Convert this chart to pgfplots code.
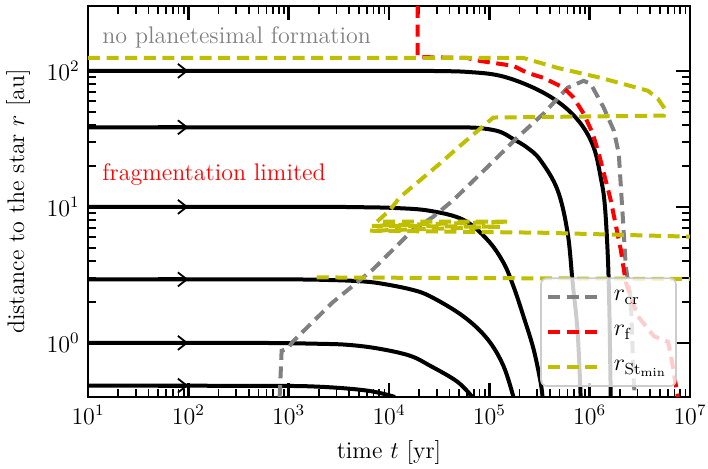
\documentclass[12pt,border=0pt]{standalone}
\usepackage{pgfplots}
\pgfplotsset{compat=1.18}
\usetikzlibrary{arrows.meta}
\definecolor{olivey}{rgb}{0.75,0.75,0}
\definecolor{mgray}{rgb}{0.5,0.5,0.5}
\definecolor{legframe}{rgb}{0.8,0.8,0.8}
\begin{document}
\begin{tikzpicture}
\begin{axis}[
 scale only axis, width=301pt, height=195.5pt,
 xmode=log, ymode=log, xmin=10, xmax=1e7, ymin=0.4, ymax=300,
 xtick={1e1,1e2,1e3,1e4,1e5,1e6,1e7}, ytick={1,10,100},
 xlabel={time $t$ [yr]}, ylabel={distance to the star $r$ [au]},
 tick align=inside, xtick pos=both, ytick pos=both,
 major tick length=7pt, minor tick length=4pt,
 every major tick/.append style={line width=1.2pt, black},
 every minor tick/.append style={line width=0.8pt, black},
 axis line style={line width=1.2pt},
 legend style={at={(axis description cs:0.978,0.026)}, anchor=south east,
   fill=white, fill opacity=0.8, text opacity=1, draw opacity=1,
   draw=legframe, rounded corners=3pt, line width=0.8pt,
   inner xsep=2.5pt, inner ysep=4pt, row sep=6.5pt, column sep=5pt, font=\normalsize},
 legend cell align=left,
 legend image code/.code={\draw[#1] (0pt,0pt) -- (25pt,0pt);},
 blk/.style={black, line width=2pt, smooth, tension=0.6},
 arr/.style={black, line width=2pt, -{Straight Barb[length=4.5pt,width=7pt,line width=0.9pt]}},
 dsh/.style={line width=2pt, dash pattern=on 6pt off 3.3pt},
]
\coordinate (SW) at (rel axis cs:0,0);
\coordinate (NE) at (rel axis cs:1,1);
% black trajectories
\addplot[blk, forget plot] coordinates {(10,100) (5000,100) (20000,100) (30000,99.7) (60256,98.3) (128825,92) (275423,75.2) (512861,57.4) (812831,41) (1096478,27.4) (1288250,16.5) (1412538,10.5) (1513561,4.5) (1570000,1.8) (1621810,0.4)};
\addplot[blk, forget plot] coordinates {(10,38.5) (20000,38.5) (60000,38.4) (90000,37.6) (128825,35.6) (173780,31.5) (239883,27.2) (323594,22.0) (478630,13.3) (602560,6.46) (676083,2.79) (758578,1.2) (812831,0.4)};
\addplot[blk, forget plot] coordinates {(10,10) (1500,10) (5000,9.95) (12000,9.8) (25704,9.35) (54954,8.04) (95499,5.74) (138038,3.90) (173780,2.61) (218776,1.57) (275423,0.904) (323594,0.519) (338844,0.4)};
\addplot[blk, forget plot] coordinates {(10,2.93) (800,2.93) (2500,2.9) (5129,2.84) (8128,2.74) (16218,2.48) (25704,2.2) (54954,1.57) (95499,1.07) (138038,0.679) (173780,0.4)};
\addplot[blk, forget plot] coordinates {(10,1) (400,1) (2000,0.985) (4074,0.965) (8128,0.904) (16218,0.804) (25704,0.679) (47863,0.519) (67608,0.4)};
\addplot[blk, forget plot] coordinates {(10,0.485) (500,0.483) (1905,0.477) (6026,0.446) (11482,0.4)};
% arrows
\addplot[arr, forget plot] coordinates {(50,100) (100,100)};
\addplot[arr, forget plot] coordinates {(50,38.5) (100,38.5)};
\addplot[arr, forget plot] coordinates {(50,10) (100,10)};
\addplot[arr, forget plot] coordinates {(50,2.93) (100,2.93)};
\addplot[arr, forget plot] coordinates {(50,1) (100,1)};
\addplot[arr, forget plot] coordinates {(50,0.485) (100,0.485)};
% r_cr
\addplot[dsh, mgray] coordinates {(813,0.4) (851,0.875) (977,0.904) (1096,1.02) (2754,1.99) (6918,3.47) (8128,3.9) (17378,6.79) (27542,8.45) (43652,11.2) (95499,19.6) (190546,32.4) (346737,48.5) (602560,75.2) (870964,84.5) (1023293,80.4) (1380384,53.7) (1737801,36.5) (1949845,24.8) (2137962,8.45) (2290868,3.65) (2570396,2.1) (2754229,0.519) (2818383,0.4)};
\addlegendentry{$r_\mathrm{cr}$}
% r_f
\addplot[dsh, red] coordinates {(19275,300) (19275,126.5) (60256,124.4) (81283,118.3) (128825,112.5) (173780,108.8) (239883,96.7) (346737,88.9) (549541,75.2) (691831,63.6) (870964,48.5) (1071519,34.7) (1230269,24.8) (1621810,11.2) (2041738,4.85) (2290868,2.79) (3019952,1.57) (4365158,1.12) (6025596,1.02) (6456542,0.804) (7244360,0.485) (7585776,0.4)};
\addlegendentry{$r_\mathrm{f}$}
% r_St_min
\addplot[dsh, olivey] coordinates {(10,124.4) (218776,124.4) (478630,105.2) (1288250,88.9) (3801894,71.5) (4786301,62.5) (5754399,51.1) (5495409,46.9) (109648,45.4) (95499,41.7) (47863,27.0) (32359,20.9) (12882,11.8) (10233,9.5) (7586,7.78) (154882,7.78) (6761,7.26) (128825,7.14) (6457,6.68) (323594,6.46) (1e7,6.04)};
\addlegendentry{$r_{\mathrm{St}_\mathrm{min}}$}
\addplot[dsh, olivey, forget plot] coordinates {(1905,3.03) (1e7,2.95)};
% texts
\node[anchor=base west, inner sep=0pt, text=mgray] at (axis cs:13.8,158) {no planetesimal formation};
\node[anchor=base west, inner sep=0pt, text=red] at (axis cs:13.8,15.7) {fragmentation limited};
\end{axis}
\pgfresetboundingbox
\path ([shift={(-44pt,-35.5pt)}]SW) rectangle ([shift={(9pt,3pt)}]NE);
\end{tikzpicture}
\end{document}
